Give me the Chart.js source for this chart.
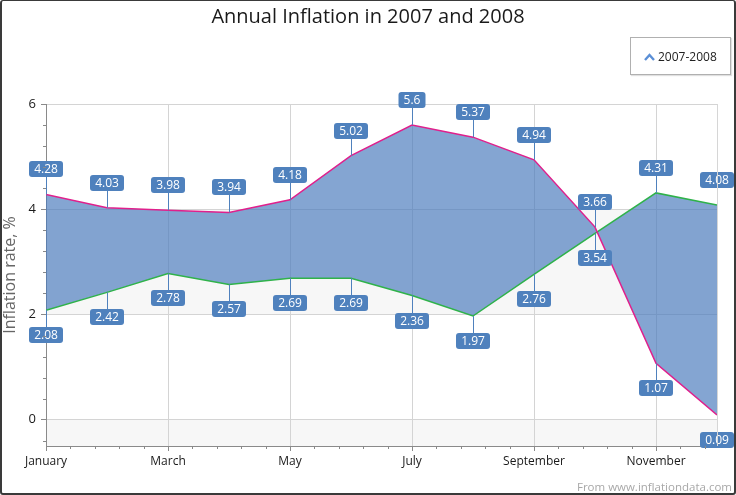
<!DOCTYPE html>
<html>
<head>
<meta charset="utf-8">
<script src="https://cdn.jsdelivr.net/npm/chart.js@4.4.1/dist/chart.umd.min.js"></script>
<style>
  html, body { margin: 0; padding: 0; background: #fff; }
  #wrap { position: relative; width: 736px; height: 495px; overflow: hidden; font-family: "Open Sans", "Noto Sans", sans-serif; }
  #c { position: absolute; left: 0; top: 0; }
  #frame { position: absolute; left: 0; top: 0; width: 736px; height: 495px; box-sizing: border-box;
           border: 2px solid #3a3a3a; border-top-width: 1px; border-radius: 3px; pointer-events: none; }
  #title { position: absolute; left: 0; top: 2px; width: 736px; text-align: center; font-size: 20px; color: #1a1a1a; font-weight: 400; }
  #legend { position: absolute; left: 630px; top: 37px; width: 101px; height: 38px; box-sizing: border-box;
            border: 1px solid #b0b0b0; box-shadow: 1px 1px 1px #e0e0e0; background: #fff;
            font-size: 12px; color: #222; }
  #legend svg { position: absolute; left: 13px; top: 15px; }
  #legend span { position: absolute; left: 27px; top: 10px; }
  #footer { position: absolute; right: 4px; top: 479px; font-size: 11.5px; color: #a8a8a8; }
</style>
</head>
<body>
<div id="wrap">
  <canvas id="c" width="736" height="495"></canvas>
  <div id="title">Annual Inflation in 2007 and 2008</div>
  <div id="legend"><svg width="11" height="8" viewBox="0 0 11 8"><polyline points="1,7 5.5,2 10,7" fill="none" stroke="#5b8fd6" stroke-width="2.4"/></svg><span>2007-2008</span></div>
  <div id="footer">From www.inflationdata.com</div>
  <div id="frame"></div>
</div>
<script>
const months = ['January','February','March','April','May','June','July','August','September','October','November','December'];
const inflation2008 = [4.28, 4.03, 3.98, 3.94, 4.18, 5.02, 5.6, 5.37, 4.94, 3.66, 1.07, 0.09];
const inflation2007 = [2.08, 2.42, 2.78, 2.57, 2.69, 2.69, 2.36, 1.97, 2.76, 3.54, 4.31, 4.08];
const yMajorTicks = [0, 2, 4, 6];

const FONT = '"Open Sans", "Noto Sans", sans-serif';
const near = (v, t) => Math.abs(v - t) < 1e-6;
const isMajorX = v => near(v, Math.round(v)) && Math.round(v) % 2 === 0;
const isMajorY = v => yMajorTicks.some(t => near(v, t));

const bandsPlugin = {
  id: 'bands',
  beforeDraw(chart) {
    const {ctx, chartArea: a, scales: {y}} = chart;
    ctx.save();
    ctx.fillStyle = '#f7f7f7';
    const bands = [[2, 4], [-0.5, 0]];
    bands.forEach(([lo, hi]) => {
      const y1 = y.getPixelForValue(hi), y2 = y.getPixelForValue(lo);
      ctx.fillRect(a.left, y1, a.right - a.left, y2 - y1);
    });
    ctx.restore();
  },
  afterDraw(chart) {
    const {ctx, chartArea: a, scales: {x, y}} = chart;
    ctx.save();
    ctx.strokeStyle = '#d6d6d6';
    ctx.lineWidth = 1;
    ctx.beginPath();
    ctx.moveTo(Math.round(a.right) + 0.5, a.top);
    ctx.lineTo(Math.round(a.right) + 0.5, a.bottom);
    ctx.stroke();
    ctx.strokeStyle = '#888';
    ctx.beginPath();
    x.ticks.forEach(t => {
      if (isMajorX(t.value)) return;
      const px = Math.round(x.getPixelForValue(t.value)) + 0.5;
      ctx.moveTo(px, a.bottom);
      ctx.lineTo(px, a.bottom + 3);
    });
    y.ticks.forEach(t => {
      if (isMajorY(t.value)) return;
      const py = Math.round(y.getPixelForValue(t.value)) + 0.5;
      ctx.moveTo(a.left, py);
      ctx.lineTo(a.left - 3, py);
    });
    ctx.stroke();
    ctx.restore();
  }
};

function roundRect(ctx, x, y, w, h, r) {
  ctx.beginPath();
  ctx.moveTo(x + r, y);
  ctx.lineTo(x + w - r, y);
  ctx.quadraticCurveTo(x + w, y, x + w, y + r);
  ctx.lineTo(x + w, y + h - r);
  ctx.quadraticCurveTo(x + w, y + h, x + w - r, y + h);
  ctx.lineTo(x + r, y + h);
  ctx.quadraticCurveTo(x, y + h, x, y + h - r);
  ctx.lineTo(x, y + r);
  ctx.quadraticCurveTo(x, y, x + r, y);
  ctx.closePath();
}

const labelPlugin = {
  id: 'valueLabels',
  afterDatasetsDraw(chart) {
    const {ctx} = chart;
    const m0 = chart.getDatasetMeta(0).data;
    const m1 = chart.getDatasetMeta(1).data;
    const d0 = chart.data.datasets[0].data;
    const d1 = chart.data.datasets[1].data;
    ctx.save();
    ctx.font = '12px ' + FONT;
    ctx.textAlign = 'center';
    ctx.textBaseline = 'middle';
    for (let i = 0; i < m0.length; i++) {
      const items = [
        {pt: m0[i], v: d0[i].y},
        {pt: m1[i], v: d1[i].y}
      ].sort((a, b) => b.v - a.v);
      items.forEach((it, k) => {
        const txt = String(it.v);
        const w = Math.round(ctx.measureText(txt).width) + 10;
        const h = 16;
        const px = Math.round(it.pt.x);
        const py = it.pt.y;
        const by = k === 0 ? Math.round(py - 17 - h) : Math.round(py + 17);
        ctx.strokeStyle = '#4f81bd';
        ctx.lineWidth = 1;
        ctx.beginPath();
        ctx.moveTo(px + 0.5, py);
        ctx.lineTo(px + 0.5, k === 0 ? by + h : by);
        ctx.stroke();
        ctx.fillStyle = '#4f81bd';
        roundRect(ctx, px - w / 2, by, w, h, 3);
        ctx.fill();
        ctx.fillStyle = '#ffffff';
        ctx.fillText(txt, px, by + h / 2 + 0.5);
      });
    }
    ctx.restore();
  }
};

new Chart(document.getElementById('c'), {
  type: 'line',
  data: {
    datasets: [
      {
        label: '2008',
        data: inflation2008.map((v, i) => ({x: i, y: v})),
        borderColor: '#e0208c',
        borderWidth: 1.5,
        pointRadius: 0,
        fill: false,
        tension: 0
      },
      {
        label: '2007',
        data: inflation2007.map((v, i) => ({x: i, y: v})),
        borderColor: '#2fb24a',
        borderWidth: 1.5,
        pointRadius: 0,
        fill: {target: 0},
        backgroundColor: 'rgba(74,122,188,0.68)',
        tension: 0
      }
    ]
  },
  options: {
    responsive: false,
    animation: false,
    events: [],
    layout: {padding: {top: 104, right: 19, bottom: 0, left: 0}},
    plugins: {legend: {display: false}, title: {display: false}, tooltip: {enabled: false}},
    scales: {
      x: {
        type: 'linear',
        min: 0,
        max: 11,
        afterFit(s) { s.height = 49; },
        border: {color: '#8a8a8a', width: 1},
        grid: {
          color: c => (c.tick && isMajorX(c.tick.value) ? '#d4d4d4' : 'rgba(0,0,0,0)'),
          tickColor: c => (c.tick && isMajorX(c.tick.value) ? '#8a8a8a' : 'rgba(0,0,0,0)'),
          tickLength: 5,
          drawTicks: true
        },
        ticks: {
          stepSize: 0.4,
          includeBounds: false,
          autoSkip: false,
          maxRotation: 0,
          maxTicksLimit: 1000,
          padding: 3,
          color: '#1a1a1a',
          font: {family: FONT, size: 12},
          callback: v => (isMajorX(v) ? months[Math.round(v)] : '')
        }
      },
      y: {
        min: -0.5,
        max: 6,
        afterFit(s) { s.width = 46; },
        border: {color: '#8a8a8a', width: 1},
        grid: {
          color: c => (c.tick && isMajorY(c.tick.value) ? '#d4d4d4' : 'rgba(0,0,0,0)'),
          tickColor: c => (c.tick && isMajorY(c.tick.value) ? '#8a8a8a' : 'rgba(0,0,0,0)'),
          tickLength: 5
        },
        ticks: {
          stepSize: 0.4,
          includeBounds: false,
          autoSkip: false,
          maxTicksLimit: 1000,
          padding: 5,
          color: '#1a1a1a',
          font: {family: FONT, size: 13},
          callback: v => (isMajorY(v) ? String(Math.round(v)) : '')
        },
        title: {
          display: true,
          text: 'Inflation rate, %',
          color: '#666',
          font: {family: FONT, size: 16},
          padding: {top: 1, bottom: 0}
        }
      }
    }
  },
  plugins: [bandsPlugin, labelPlugin]
});
</script>
</body>
</html>
